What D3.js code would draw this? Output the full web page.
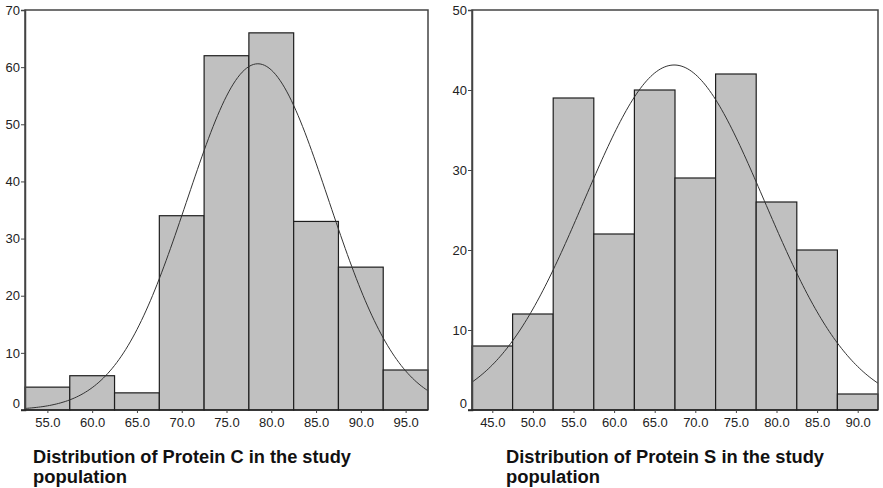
<!DOCTYPE html>
<html>
<head>
<meta charset="utf-8">
<script src="https://cdnjs.cloudflare.com/ajax/libs/d3/7.8.5/d3.min.js"></script>
<style>
body { margin: 0; background: #fff; }
.tick text { font-family: "Liberation Sans", Arial, sans-serif; font-size: 13px; fill: #222; }
.title { font-family: "Liberation Sans", Arial, sans-serif; font-weight: bold; font-size: 18px; fill: #111; }
</style>
</head>
<body>
<div id="chart"></div>
<script>

// Protein C histogram
var proteinCBins = [55, 60, 65, 70, 75, 80, 85, 90, 95];
var proteinCCounts = [4, 6, 3, 34, 62, 66, 33, 25, 7];
var proteinCTicks = [0, 10, 20, 30, 40, 50, 60, 70];
var proteinCMean = 78.5;
var proteinCSd = 7.9;

// Protein S histogram
var proteinSBins = [45, 50, 55, 60, 65, 70, 75, 80, 85, 90];
var proteinSCounts = [8, 12, 39, 22, 40, 29, 42, 26, 20, 2];
var proteinSTicks = [0, 10, 20, 30, 40, 50];
var proteinSMean = 67.4;
var proteinSSd = 11.1;

var titles = [
    ["Distribution of Protein C in the study", "population"],
    ["Distribution of Protein S in the study", "population"]
];

var WIDTH = 883;
var HEIGHT = 488;
var BIN = 5;
var TOP = 10;
var BOTTOM = 410;

var svg = d3.select("#chart").append("svg")
    .attr("width", WIDTH)
    .attr("height", HEIGHT);


function normal(x, mean, sd) {
    return Math.exp(-0.5 * Math.pow((x - mean) / sd, 2)) / (sd * Math.sqrt(2 * Math.PI));
}


function histogram(left, right, bins, counts, ticks, mean, sd, title, tx) {
    var x = d3.scaleLinear()
        .domain([bins[0] - BIN / 2, bins[bins.length - 1] + BIN / 2])
        .range([left, right]);
    var y = d3.scaleLinear()
        .domain([0, ticks[ticks.length - 1]])
        .range([BOTTOM, TOP]);

    var g = svg.append("g");

    g.selectAll("rect.bar")
        .data(counts)
        .enter()
        .append("rect")
        .attr("class", "bar")
        .attr("x", function(d, i) { return x(bins[i] - BIN / 2); })
        .attr("width", function(d, i) { return x(bins[i] + BIN / 2) - x(bins[i] - BIN / 2); })
        .attr("y", function(d) { return y(d); })
        .attr("height", function(d) { return y(0) - y(d); })
        .attr("fill", "#c0c0c0")
        .attr("stroke", "#1e1e1e")
        .attr("stroke-width", 1.2);

    // fitted normal curve, scaled to counts
    var n = d3.sum(counts);
    var xs = d3.range(x.domain()[0], x.domain()[1] + 0.01, 0.25);
    var line = d3.line()
        .x(function(d) { return x(d); })
        .y(function(d) { return y(n * BIN * normal(d, mean, sd)); })
        .curve(d3.curveBasis);
    g.append("path")
        .datum(xs)
        .attr("d", line)
        .attr("fill", "none")
        .attr("stroke", "#333")
        .attr("stroke-width", 1);

    // frame
    g.append("path")
        .attr("d", "M" + left + "," + BOTTOM + "V" + TOP + "H" + right + "V" + BOTTOM)
        .attr("fill", "none")
        .attr("stroke", "#444")
        .attr("stroke-width", 1.5);

    var yAxis = g.append("g")
        .attr("transform", "translate(" + left + ",0)")
        .call(d3.axisLeft(y).tickValues(ticks).tickSize(4).tickFormat(d3.format("d")));
    yAxis.select(".domain").attr("stroke", "#444").attr("stroke-width", 1.5);
    yAxis.selectAll(".tick line").attr("stroke", "#444");
    yAxis.selectAll(".tick text").attr("dx", 2)
        .attr("dy", function(d) { return d == 0 ? "-0.2em" : "0.32em"; });

    var xAxis = g.append("g")
        .attr("transform", "translate(0," + BOTTOM + ")")
        .call(d3.axisBottom(x).tickValues(bins).tickSize(3).tickSizeOuter(0).tickFormat(d3.format(".1f")));
    xAxis.select(".domain").attr("stroke", "#222").attr("stroke-width", 1.5)
        .attr("d", "M" + (left - 4) + ",0H" + right);
    xAxis.selectAll(".tick line").attr("stroke", "#444");
    xAxis.selectAll(".tick text").attr("dy", "0.85em");

    var t = g.append("text")
        .attr("class", "title")
        .attr("x", tx)
        .attr("y", 463);
    t.append("tspan").attr("x", tx).text(title[0])
        .attr("textLength", 318).attr("lengthAdjust", "spacingAndGlyphs");
    t.append("tspan").attr("x", tx).attr("dy", 20).text(title[1])
        .attr("textLength", 94).attr("lengthAdjust", "spacingAndGlyphs");
}


histogram(25, 428, proteinCBins, proteinCCounts, proteinCTicks, proteinCMean, proteinCSd, titles[0], 33);
histogram(472, 878, proteinSBins, proteinSCounts, proteinSTicks, proteinSMean, proteinSSd, titles[1], 506);

</script>
</body>
</html>
